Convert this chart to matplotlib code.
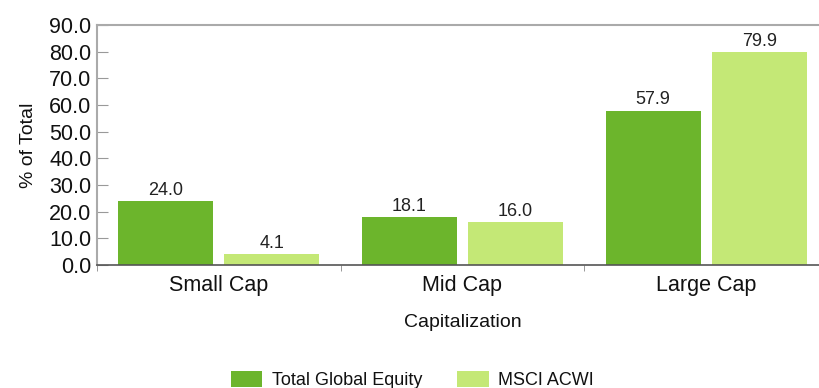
import matplotlib.pyplot as plt
import numpy as np

plt.rcParams['font.family'] = ['Liberation Sans', 'DejaVu Sans']

categories = ['Small Cap', 'Mid Cap', 'Large Cap']
total_global_equity = [24.0, 18.1, 57.9]
msci_acwi = [4.1, 16.0, 79.9]
series_names = ['Total Global Equity', 'MSCI ACWI']
y_ticks = np.arange(0, 91, 10)

dark_green = '#6cb52c'
light_green = '#c4e876'
text_color = '#111111'

fig = plt.figure(figsize=(8.2, 3.88), dpi=100)
ax = fig.add_axes([97 / 820, 1 - 265 / 388, 731 / 820, 240 / 388])

x = np.arange(len(categories))
w = 0.39
off = 0.218
b1 = ax.bar(x - off, total_global_equity, w, color=dark_green, label=series_names[0])
b2 = ax.bar(x + off, msci_acwi, w, color=light_green, label=series_names[1])

# value labels above each bar
for bars, vals in ((b1, total_global_equity), (b2, msci_acwi)):
    for bar, v in zip(bars, vals):
        ax.text(bar.get_x() + bar.get_width() / 2, v + 0.8, f'{v:.1f}',
                ha='center', va='bottom', fontsize=13, color='#222222')

ax.set_xlim(-0.5, 2.5)
ax.set_ylim(0, 90)
ax.set_yticks(y_ticks)
ax.set_yticklabels([f'{t:.1f}' for t in y_ticks], fontsize=15.5, color=text_color)
ax.tick_params(axis='y', direction='in', length=8, color='#999999', pad=4)

ax.set_xticks(x)
ax.set_xticklabels(categories, fontsize=15.5, color=text_color)
ax.tick_params(axis='x', which='major', length=0, pad=7)
# separators between category groups
ax.set_xticks([-0.5, 0.5, 1.5, 2.5], minor=True)
ax.tick_params(axis='x', which='minor', length=4, color='#888888', direction='out')

for s in ['left', 'top']:
    ax.spines[s].set_color('#aaaaaa')
    ax.spines[s].set_linewidth(1.5)
ax.spines['right'].set_visible(False)
ax.spines['bottom'].set_color('#555555')
ax.spines['bottom'].set_linewidth(1.2)

ax.set_xlabel('Capitalization', fontsize=14, labelpad=13, color=text_color)
ax.set_ylabel('% of Total', fontsize=14, labelpad=9, color=text_color)

fig.legend(handles=[b1, b2], loc='center', bbox_to_anchor=(0.503, 0.02),
           ncol=2, frameon=False, fontsize=13, handlelength=1.75,
           handleheight=1.0, columnspacing=1.9, handletextpad=0.55,
           labelcolor=text_color)

fig.savefig('out.png', dpi=100)
